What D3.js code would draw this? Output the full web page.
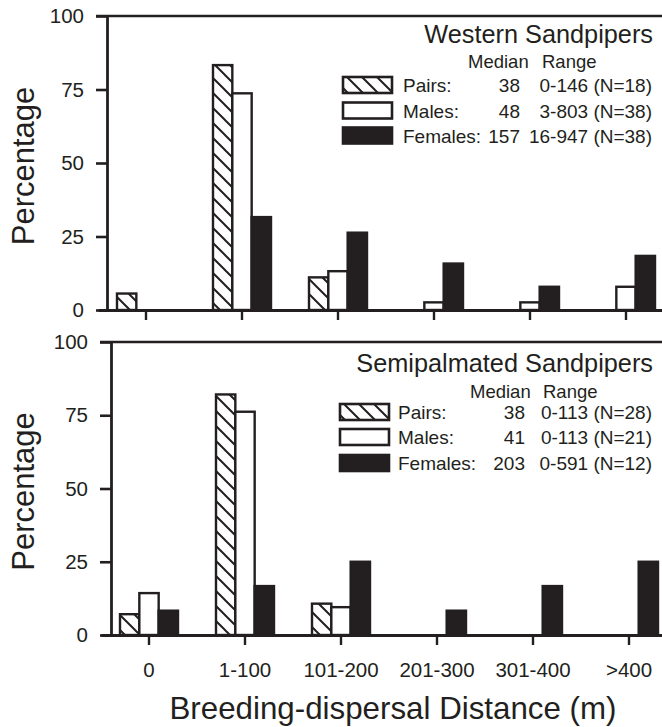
<!DOCTYPE html>
<html>
<head>
<meta charset="utf-8">
<script src="https://cdn.jsdelivr.net/npm/d3@7"></script>
<style>
  html, body { margin: 0; padding: 0; background: #fff; }
  svg { display: block; }
  text { font-family: "Liberation Sans", Arial, Helvetica, sans-serif; fill: #231f20; }
</style>
</head>
<body>
<svg id="chart" width="662" height="727"></svg>
<script>
// ---------------- data ----------------
const categories = ["0", "1-100", "101-200", "201-300", "301-400", ">400"];
const seriesNames = ["Pairs", "Males", "Females"];
const yTickValues = [0, 25, 50, 75, 100];

const westernPairs   = [5.6, 83.3, 11.1, 0, 0, 0];
const westernMales   = [0, 73.7, 13.2, 2.6, 2.6, 7.9];
const westernFemales = [0, 31.6, 26.3, 15.8, 7.9, 18.4];

const semiPairs   = [7.1, 82.1, 10.7, 0, 0, 0];
const semiMales   = [14.3, 76.2, 9.5, 0, 0, 0];
const semiFemales = [8.3, 16.7, 25.0, 8.3, 16.7, 25.0];

const westernMedians = [38, 48, 157];
const westernRanges  = ["0-146", "3-803", "16-947"];
const westernN       = [18, 38, 38];

const semiMedians = [38, 41, 203];
const semiRanges  = ["0-113", "0-113", "0-591"];
const semiN       = [28, 21, 12];

const speciesTitles = ["Western Sandpipers", "Semipalmated Sandpipers"];
const yTitle = "Percentage";
const xTitle = "Breeding-dispersal Distance (m)";

// ---------------- layout ----------------
const INK = "#231f20";
const svg = d3.select("#chart");

const defs = svg.append("defs");
const pat = defs.append("pattern")
  .attr("id", "hatch").attr("patternUnits", "userSpaceOnUse")
  .attr("width", 15).attr("height", 15);
pat.append("rect").attr("width", 15).attr("height", 15).attr("fill", "#fff");
pat.append("path")
  .attr("d", "M-2,-2 L17,17 M-2,13 L2,17 M13,-2 L17,2")
  .attr("stroke", INK).attr("stroke-width", 2);

const fills = { Pairs: "url(#hatch)", Males: "#fff", Females: INK };

const panels = [
  { top: 16, bottom: 310, axisX: 107, xr: [98, 674], showLabels: false,
    title: speciesTitles[0], series: [westernPairs, westernMales, westernFemales],
    medians: westernMedians, ranges: westernRanges, ns: westernN,
    leg: { titleY: 43, headY: 68, rowY: [85, 110.5, 135.5], swX: 342, txtX: 403, medR: 520, rngR: 652, medianX: 468, rangeX: 542 } },
  { top: 342, bottom: 635, axisX: 111, xr: [101, 677], showLabels: true,
    title: speciesTitles[1], series: [semiPairs, semiMales, semiFemales],
    medians: semiMedians, ranges: semiRanges, ns: semiN,
    leg: { titleY: 372, headY: 398, rowY: [412, 437, 463], swX: 339, txtX: 398, medR: 525, rngR: 652, medianX: 470, rangeX: 543 } }
];

panels.forEach(p => {
  const g = svg.append("g");
  const y = d3.scaleLinear().domain([0, 100]).range([p.bottom, p.top]);
  const x = d3.scaleBand().domain(categories).range(p.xr).paddingInner(0).paddingOuter(0);
  const sub = d3.scaleBand().domain(seriesNames).range([-29, 29]);

  // bars
  seriesNames.forEach((s, si) => {
    const vals = p.series[si];
    g.append("g").selectAll("rect")
      .data(categories.map((c, i) => ({ c, v: vals[i] })).filter(d => d.v > 0))
      .join("rect")
      .attr("x", d => x(d.c) + x.bandwidth() / 2 + sub(s))
      .attr("width", sub.bandwidth())
      .attr("y", d => y(d.v))
      .attr("height", d => y(0) - y(d.v))
      .attr("fill", fills[s])
      .attr("stroke", INK)
      .attr("stroke-width", 2.4);
  });

  // top frame line
  g.append("line")
    .attr("x1", p.axisX - 11).attr("x2", 662)
    .attr("y1", y(100)).attr("y2", y(100))
    .attr("stroke", INK).attr("stroke-width", 2.6);

  // x axis
  const xAxis = g.append("g")
    .attr("transform", `translate(0,${y(0)})`)
    .call(d3.axisBottom(x).tickSize(10).tickSizeOuter(0).tickPadding(17));
  xAxis.select(".domain").attr("stroke", INK).attr("stroke-width", 2.8);
  xAxis.selectAll(".tick line").attr("stroke", INK).attr("stroke-width", 2.4);
  xAxis.selectAll(".tick text")
    .style("font-size", "20.5px").attr("fill", INK)
    .attr("font-family", "Liberation Sans, Arial, sans-serif")
    .attr("opacity", p.showLabels ? 1 : 0);

  // y axis
  const yAxis = g.append("g")
    .attr("transform", `translate(${p.axisX},0)`)
    .call(d3.axisLeft(y).tickValues(yTickValues).tickSize(11).tickSizeOuter(0).tickPadding(12));
  yAxis.select(".domain").attr("stroke", INK).attr("stroke-width", 2.8);
  yAxis.selectAll(".tick line").attr("stroke", INK).attr("stroke-width", 2.6);
  yAxis.selectAll(".tick text")
    .style("font-size", "20.5px").attr("fill", INK)
    .attr("font-family", "Liberation Sans, Arial, sans-serif");

  // y title
  g.append("text")
    .attr("transform", `translate(34,${(p.top + p.bottom) / 2 + 3}) rotate(-90)`)
    .attr("text-anchor", "middle")
    .style("font-size", "31px")
    .text(yTitle);

  // legend
  const L = p.leg;
  g.append("text")
    .attr("x", 653).attr("y", L.titleY).attr("text-anchor", "end")
    .style("font-size", "25.3px")
    .text(p.title);
  g.append("text").attr("x", L.medianX).attr("y", L.headY).style("font-size", "18.5px").text("Median");
  g.append("text").attr("x", L.rangeX).attr("y", L.headY).style("font-size", "18.5px").text("Range");

  seriesNames.forEach((s, i) => {
    const cy = L.rowY[i];
    g.append("rect")
      .attr("x", L.swX + 1).attr("y", cy - 8)
      .attr("width", 49).attr("height", 16)
      .attr("fill", fills[s]).attr("stroke", INK).attr("stroke-width", 2.6);
    g.append("text").attr("x", L.txtX).attr("y", cy + 7).style("font-size", "19px").text(s + ":");
    g.append("text").attr("x", L.medR).attr("y", cy + 7).attr("text-anchor", "end")
      .style("font-size", "19px").text(p.medians[i]);
    g.append("text").attr("x", L.rngR).attr("y", cy + 7).attr("text-anchor", "end")
      .style("font-size", "19px").text(`${p.ranges[i]} (N=${p.ns[i]})`);
  });
});

// x title
svg.append("text")
  .attr("x", 393).attr("y", 719).attr("text-anchor", "middle")
  .style("font-size", "31.3px")
  .text(xTitle);
</script>
</body>
</html>
